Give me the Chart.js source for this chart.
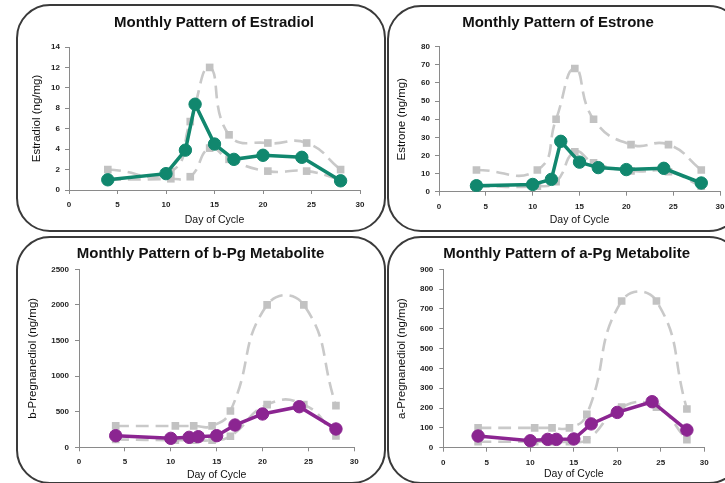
<!DOCTYPE html>
<html><head><meta charset="utf-8">
<script src="https://cdn.jsdelivr.net/npm/chart.js@4.4.1/dist/chart.umd.min.js"></script>
<style>
html,body{margin:0;padding:0;background:#fff;width:725px;height:483px;overflow:hidden;position:relative;}
.frame{position:absolute;box-sizing:border-box;border:2px solid #3a3a3a;border-radius:34px;}
canvas{position:absolute;}
</style></head><body>
<div class="frame" style="left:16px;top:4px;width:370px;height:228px"></div>
<div class="frame" style="left:387px;top:5px;width:356px;height:227px"></div>
<div class="frame" style="left:16px;top:236px;width:370px;height:248px"></div>
<div class="frame" style="left:387px;top:236px;width:356px;height:248px"></div>
<script>
// ---- data ----
const days = [4, 10, 12, 13, 15, 17, 20, 24, 28];
const rangeDays = [4, 10.5, 12.5, 14.5, 16.5, 20.5, 24.5, 28];
const xTicks = [0, 5, 10, 15, 20, 25, 30];

const estradiol = [1.0, 1.6, 3.9, 8.4, 4.5, 3.0, 3.4, 3.2, 0.9];
const estradiolHigh = [2.0, 1.8, 6.7, 12.0, 5.4, 4.6, 4.6, 2.0];
const estradiolLow = [1.0, 1.1, 1.3, 4.1, 3.0, 1.85, 1.85, 1.0];

const estrone = [3.3, 4.0, 6.8, 27.8, 16.3, 13.3, 12.2, 12.9, 4.8];
const estroneHigh = [12, 12, 40, 68, 40, 26, 26, 12];
const estroneLow = [3, 3, 5.5, 22, 16, 11.5, 11, 3];

const bPg = [163, 126, 140, 149, 163, 313, 468, 570, 257];
const bPgHigh = [300, 300, 300, 300, 510, 2000, 2000, 585];
const bPgLow = [110, 100, 100, 100, 155, 600, 600, 160];

const aPg = [59, 35, 42, 42, 44, 120, 178, 232, 89];
const aPgHigh = [100, 100, 100, 100, 168, 740, 740, 195];
const aPgLow = [30, 30, 30, 30, 40, 205, 205, 40];

const titles = ['Monthly Pattern of Estradiol', 'Monthly Pattern of Estrone',
                'Monthly Pattern of b-Pg Metabolite', 'Monthly Pattern of a-Pg Metabolite'];
const yTitles = ['Estradiol (ng/mg)', 'Estrone (ng/mg)', 'b-Pregnanediol (ng/mg)', 'a-Pregnanediol (ng/mg)'];
const xTitle = 'Day of Cycle';
const yMax = [14, 80, 2500, 900];
const yStep = [2, 10, 500, 100];

// ---- styles / layout ----
const GREEN = '#11876e', PURPLE = '#8b2591';
const FONT = "'Liberation Sans', Arial, sans-serif";
const panels = [
  {canvas:{x:17,y:5,w:368,h:227}, plot:{l:69,t:47,r:360,b:190}, title:{x:214,y:23}, yTitleX:37, xTitleY:220, tickPad:5,
   main:estradiol, high:estradiolHigh, low:estradiolLow, color:GREEN},
  {canvas:{x:388,y:6,w:352,h:225}, plot:{l:439,t:46.7,r:720,b:191.7}, title:{x:558,y:23.3}, yTitleX:401.7, xTitleY:220, tickPad:5,
   main:estrone, high:estroneHigh, low:estroneLow, color:GREEN},
  {canvas:{x:17,y:237,w:368,h:246}, plot:{l:79,t:269.3,r:354.3,b:447.3}, title:{x:200.5,y:254.3}, yTitleX:33, xTitleY:475, tickPad:6,
   main:bPg, high:bPgHigh, low:bPgLow, color:PURPLE},
  {canvas:{x:388,y:237,w:352,h:246}, plot:{l:443.3,t:269.3,r:704.3,b:447.7}, title:{x:566.7,y:254}, yTitleX:401.7, xTitleY:474.3, tickPad:6,
   main:aPg, high:aPgHigh, low:aPgLow, color:PURPLE}
];

const shiftTitle = {
  id: 'shiftTitle',
  afterLayout(chart, args, opts) {
    const t = chart.titleBlock;
    if (t && opts && opts.dx) { t.left += opts.dx; t.right += opts.dx; }
  }
};

const toPts = (xs, ys) => xs.map((x, i) => ({x: x, y: ys[i]}));

panels.forEach((p, k) => {
  const c = document.createElement('canvas');
  c.width = p.canvas.w; c.height = p.canvas.h;
  c.style.left = p.canvas.x + 'px'; c.style.top = p.canvas.y + 'px';
  c.style.width = p.canvas.w + 'px'; c.style.height = p.canvas.h + 'px';
  document.body.appendChild(c);

  const padL = 2, padT = 2, padB = 0;
  const L = p.plot.l - p.canvas.x, T = p.plot.t - p.canvas.y;
  const R = p.plot.r - p.canvas.x, B = p.plot.b - p.canvas.y;
  const padR = p.canvas.w - R;
  const yw = L - padL;
  const xh = p.canvas.h - padB - B;
  const tSize = 15, tLH = tSize * 1.2;
  const tPadTop = (p.title.y - p.canvas.y) - padT - tLH / 2;
  const tPadBot = T - padT - tLH - tPadTop;
  const ySize = 11.5, yLH = ySize * 1.2;
  const yPadTop = (p.yTitleX - p.canvas.x) - padL - yLH / 2;
  const xSize = 10.5, xLH = xSize * 1.2;
  const xPadBot = p.canvas.h - padB - (p.xTitleY - p.canvas.y) - xLH / 2;
  const dx = p.title.x - (p.plot.l + p.plot.r) / 2;

  const grayDs = (data) => ({
    data: data, borderColor: '#c9c9c9', borderWidth: 2.6, borderDash: [13, 7],
    pointStyle: 'rect', pointRadius: 5.4, pointBackgroundColor: '#c2c2c2',
    pointBorderColor: '#c2c2c2', pointBorderWidth: 0, tension: 0.5, fill: false
  });

  new Chart(c, {
    type: 'line',
    data: {
      datasets: [
        {data: toPts(days, p.main), borderColor: p.color, borderWidth: 3.5,
         pointStyle: 'circle', pointRadius: 6.2, pointBackgroundColor: p.color,
         pointBorderColor: p.color, pointBorderWidth: 1, tension: 0, fill: false},
        grayDs(toPts(rangeDays, p.high)),
        grayDs(toPts(rangeDays, p.low))
      ]
    },
    options: {
      responsive: false, animation: false, devicePixelRatio: 1,
      layout: {padding: {left: padL, top: padT, right: padR, bottom: padB}},
      plugins: {
        legend: {display: false}, tooltip: {enabled: false},
        title: {display: true, text: titles[k], fullSize: false, color: '#111',
                font: {family: FONT, size: tSize, weight: 'bold', lineHeight: 1.2},
                padding: {top: tPadTop, bottom: tPadBot}},
        shiftTitle: {dx: dx}
      },
      scales: {
        x: {
          type: 'linear', min: 0, max: 30,
          afterBuildTicks: (s) => { s.ticks = xTicks.map(v => ({value: v})); },
          afterFit: (s) => { s.height = xh; },
          grid: {drawOnChartArea: false, drawTicks: true, tickLength: 4, color: '#8a8a8a'},
          border: {display: true, color: '#8a8a8a', width: 1},
          ticks: {color: '#1e1e1e', padding: 6, maxRotation: 0, autoSkip: false,
                  callback: (v) => String(v),
                  font: {family: FONT, size: 8, weight: 'bold'}},
          title: {display: true, text: xTitle, color: '#111',
                  font: {family: FONT, size: xSize, lineHeight: 1.2},
                  padding: {top: 0, bottom: xPadBot}}
        },
        y: {
          type: 'linear', min: 0, max: yMax[k],
          ticks: {stepSize: yStep[k], color: '#1e1e1e', padding: p.tickPad, autoSkip: false,
                  callback: (v) => String(v),
                  font: {family: FONT, size: 8, weight: 'bold'}},
          afterFit: (s) => { s.width = yw; },
          grid: {drawOnChartArea: false, drawTicks: true, tickLength: 4, color: '#8a8a8a'},
          border: {display: true, color: '#8a8a8a', width: 1},
          title: {display: true, text: yTitles[k], color: '#111',
                  font: {family: FONT, size: ySize, lineHeight: 1.2},
                  padding: {top: yPadTop, bottom: 0}}
        }
      }
    },
    plugins: [shiftTitle]
  });
});
</script>
</body></html>
